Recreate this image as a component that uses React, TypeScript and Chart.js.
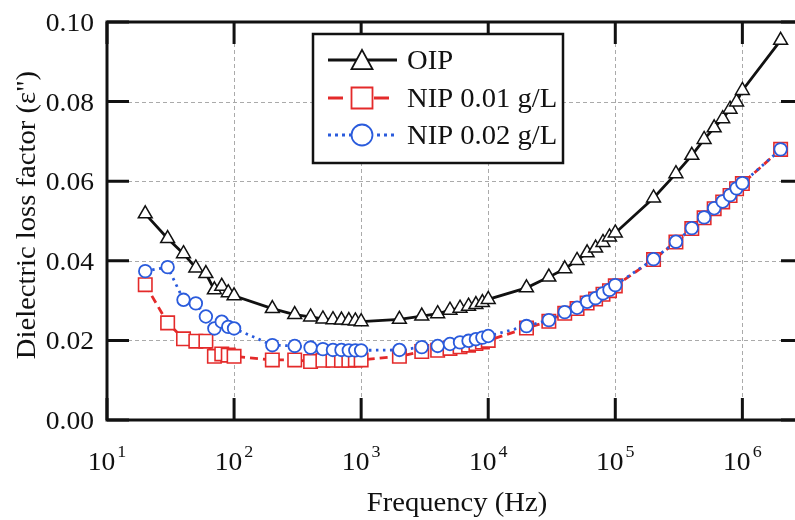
import React, { useEffect, useRef } from 'react';
import { Chart, registerables } from 'chart.js';

Chart.register(...registerables);

// ---------- data ----------
const frequencies = [
  20, 30, 40, 50, 60, 70, 80, 90, 100,
  200, 300, 400, 500, 600, 700, 800, 900, 1000,
  2000, 3000, 4000, 5000, 6000, 7000, 8000, 9000, 10000,
  20000, 30000, 40000, 50000, 60000, 70000, 80000, 90000, 100000,
  200000, 300000, 400000, 500000, 600000, 700000, 800000, 900000, 1000000,
  2000000,
];

const oipValues = [
  0.0518, 0.0456, 0.0418, 0.0382, 0.0368, 0.0327, 0.0336, 0.032, 0.0312,
  0.028, 0.0265, 0.0259, 0.0254, 0.0252, 0.0251, 0.025, 0.0249, 0.0247,
  0.0253, 0.0261, 0.0267, 0.0276, 0.0281, 0.0286, 0.029, 0.0295, 0.0303,
  0.0332, 0.0359, 0.038, 0.0401, 0.042, 0.0432, 0.0446, 0.046, 0.047,
  0.0558, 0.0619, 0.0665, 0.0705, 0.0734, 0.0757, 0.0781, 0.0799, 0.0828,
  0.0954,
];

const nip001Values = [
  0.034, 0.0244, 0.0204, 0.0198, 0.0198, 0.016, 0.0166, 0.0163, 0.016,
  0.0151, 0.0151, 0.0147, 0.015, 0.015, 0.015, 0.015, 0.0151, 0.0151,
  0.016, 0.0172, 0.0175, 0.018, 0.0184, 0.0188, 0.0192, 0.0196, 0.02,
  0.0231, 0.0248, 0.0268, 0.028, 0.0294, 0.0304, 0.0316, 0.0325, 0.0337,
  0.0403, 0.0447, 0.0481, 0.0508, 0.0531, 0.0548, 0.0564, 0.0581, 0.0594,
  0.068,
];

const nip002Values = [
  0.0374, 0.0384, 0.0302, 0.0293, 0.026, 0.023, 0.0247, 0.0234, 0.023,
  0.0188, 0.0186, 0.0182, 0.0178, 0.0176, 0.0176, 0.0175, 0.0175, 0.0175,
  0.0176, 0.0183, 0.0186, 0.0191, 0.0195, 0.0199, 0.0203, 0.0207, 0.0211,
  0.0236, 0.0251, 0.0271, 0.0282, 0.0297, 0.0306, 0.0318, 0.0327, 0.0339,
  0.0404, 0.0448, 0.0482, 0.0509, 0.0532, 0.0549, 0.0565, 0.0582, 0.0595,
  0.068,
];

const seriesNames = ['OIP', 'NIP 0.01 g/L', 'NIP 0.02 g/L'];

const xTickValues = [10, 100, 1000, 10000, 100000, 1000000];
const xTickExponents = ['1', '2', '3', '4', '5', '6'];
const yTickValues = [0, 0.02, 0.04, 0.06, 0.08, 0.1];
const yTickLabels = ['0.00', '0.02', '0.04', '0.06', '0.08', '0.10'];

const xAxisTitle = 'Frequency (Hz)';
const yAxisTitle = 'Dielectric loss factor (ε")';

const X_MIN = 10;
const X_MAX = 3000000;
const Y_MIN = 0;
const Y_MAX = 0.1;

// ---------- styling ----------
const FONT = '"Liberation Serif", "Times New Roman", "DejaVu Serif", serif';
const STRETCH = 1.06;
const BLACK = '#111111';
const RED = '#e42a2a';
const BLUE = '#2a5bdc';

function toPoints(vals: number[]) {
  return frequencies.map((f, i) => ({ x: f, y: vals[i] }));
}

function drawText(
  ctx: CanvasRenderingContext2D,
  text: string,
  x: number,
  y: number,
  size: number,
  align: CanvasTextAlign,
  rotate = 0
) {
  ctx.save();
  ctx.translate(x, y);
  if (rotate) ctx.rotate(rotate);
  ctx.scale(STRETCH, 1);
  ctx.font = `${size}px ${FONT}`;
  ctx.textAlign = align;
  ctx.textBaseline = 'alphabetic';
  ctx.fillStyle = BLACK;
  ctx.fillText(text, 0, 0);
  ctx.restore();
}

function drawMarker(
  ctx: CanvasRenderingContext2D,
  style: string,
  x: number,
  y: number,
  size: number,
  color: string,
  lw: number
) {
  ctx.save();
  ctx.setLineDash([]);
  ctx.fillStyle = '#ffffff';
  ctx.strokeStyle = color;
  ctx.lineWidth = lw;
  ctx.beginPath();
  if (style === 'triangle') {
    const h = size * 0.87;
    ctx.moveTo(x, y - h / 2 - 1);
    ctx.lineTo(x + size / 2, y + h / 2);
    ctx.lineTo(x - size / 2, y + h / 2);
    ctx.closePath();
  } else if (style === 'rect') {
    ctx.rect(x - size / 2, y - size / 2, size, size);
  } else {
    ctx.arc(x, y, size / 2, 0, Math.PI * 2);
  }
  ctx.fill();
  ctx.stroke();
  ctx.restore();
}

const framePlugin = {
  id: 'framePlugin',
  beforeDatasetsDraw(chart: any) {
    const { ctx, chartArea: a, scales } = chart;
    const xs = scales.x;
    const ys = scales.y;
    ctx.save();
    ctx.strokeStyle = '#aaaaaa';
    ctx.lineWidth = 1;
    ctx.setLineDash([4, 3]);
    xTickValues.forEach((v) => {
      if (v <= X_MIN || v >= X_MAX) return;
      const px = Math.round(xs.getPixelForValue(v)) + 0.5;
      ctx.beginPath();
      ctx.moveTo(px, a.top);
      ctx.lineTo(px, a.bottom);
      ctx.stroke();
    });
    yTickValues.forEach((v) => {
      if (v <= Y_MIN || v >= Y_MAX) return;
      const py = Math.round(ys.getPixelForValue(v)) + 0.5;
      ctx.beginPath();
      ctx.moveTo(a.left, py);
      ctx.lineTo(a.right, py);
      ctx.stroke();
    });
    ctx.restore();
  },
  afterDraw(chart: any) {
    const { ctx, chartArea: a, scales } = chart;
    const xs = scales.x;
    const ys = scales.y;
    ctx.save();
    ctx.setLineDash([]);
    ctx.strokeStyle = BLACK;
    ctx.lineWidth = 3;
    ctx.strokeRect(a.left, a.top, a.right - a.left, a.bottom - a.top);

    const TL = 22;
    xTickValues.forEach((v) => {
      const px = xs.getPixelForValue(v);
      ctx.beginPath();
      ctx.moveTo(px, a.bottom);
      ctx.lineTo(px, a.bottom - TL);
      ctx.moveTo(px, a.top);
      ctx.lineTo(px, a.top + TL);
      ctx.stroke();
    });
    yTickValues.forEach((v) => {
      const py = ys.getPixelForValue(v);
      ctx.beginPath();
      ctx.moveTo(a.left, py);
      ctx.lineTo(a.left + TL, py);
      ctx.moveTo(a.right, py);
      ctx.lineTo(a.right - TL, py);
      ctx.stroke();
    });

    // x tick labels: 10^n
    xTickValues.forEach((v, i) => {
      const px = xs.getPixelForValue(v);
      ctx.font = `26px ${FONT}`;
      const wBase = ctx.measureText('10').width * STRETCH;
      ctx.font = `17px ${FONT}`;
      const wExp = ctx.measureText(xTickExponents[i]).width * STRETCH;
      const total = wBase + 2 + wExp;
      const start = px - total / 2;
      drawText(ctx, '10', start, a.bottom + 50, 26, 'left');
      drawText(ctx, xTickExponents[i], start + wBase + 2, a.bottom + 37, 17, 'left');
    });

    // y tick labels
    yTickValues.forEach((v, i) => {
      const py = ys.getPixelForValue(v);
      drawText(ctx, yTickLabels[i], a.left - 13, py + 9, 26, 'right');
    });

    // axis titles
    drawText(ctx, xAxisTitle, 457, 511, 27, 'center');
    drawText(ctx, yAxisTitle, 35, 215, 27, 'center', -Math.PI / 2);

    // legend
    const lx = 313, ly = 34, lw = 250, lh = 129;
    ctx.fillStyle = '#ffffff';
    ctx.fillRect(lx, ly, lw, lh);
    ctx.strokeStyle = BLACK;
    ctx.lineWidth = 2.5;
    ctx.strokeRect(lx, ly, lw, lh);

    const rows = [60, 98, 135];
    const ds = chart.data.datasets;
    const legendOrder = [0, 1, 2];
    legendOrder.forEach((di, r) => {
      const d = ds[di];
      const y = rows[r];
      ctx.save();
      ctx.strokeStyle = d.borderColor;
      ctx.lineWidth = d.borderWidth;
      ctx.setLineDash(d.legendDash || []);
      ctx.beginPath();
      ctx.moveTo(328, y);
      ctx.lineTo(397, y);
      ctx.stroke();
      ctx.restore();
      drawMarker(ctx, d.pointStyle, 362, y, 21, d.pointBorderColor, 1.8);
      drawText(ctx, d.label, 407, y + 8.5, 27, 'left');
    });

    ctx.restore();
  },
};

export default function App() {
  const ref = useRef<HTMLCanvasElement>(null);

  useEffect(() => {
    if (!ref.current) return;
    const chart = new Chart(ref.current, {
      type: 'line',
      data: {
        datasets: [
          {
            label: seriesNames[0],
            data: toPoints(oipValues),
            borderColor: BLACK,
            borderWidth: 2.8,
            pointStyle: 'triangle',
            pointRadius: 8,
            pointBorderWidth: 1.5,
            pointBackgroundColor: '#ffffff',
            pointBorderColor: BLACK,
            tension: 0,
            order: 0,
          } as any,
          {
            label: seriesNames[1],
            data: toPoints(nip001Values),
            borderColor: RED,
            borderWidth: 2.8,
            borderDash: [8, 5],
            legendDash: [15, 8],
            pointStyle: 'rect',
            pointRadius: 9.5,
            pointBorderWidth: 1.6,
            pointBackgroundColor: '#ffffff',
            pointBorderColor: RED,
            tension: 0,
            order: 2,
          } as any,
          {
            label: seriesNames[2],
            data: toPoints(nip002Values),
            borderColor: BLUE,
            borderWidth: 2.8,
            borderDash: [2.5, 4.5],
            legendDash: [3, 4],
            pointStyle: 'circle',
            pointRadius: 6.3,
            pointBorderWidth: 1.8,
            pointBackgroundColor: '#ffffff',
            pointBorderColor: BLUE,
            tension: 0,
            order: 1,
          } as any,
        ],
      },
      options: {
        animation: false,
        responsive: false,
        devicePixelRatio: 1,
        layout: { padding: { left: 107, right: 12, top: 22, bottom: 100 } },
        plugins: {
          legend: { display: false },
          tooltip: { enabled: false },
        },
        scales: {
          x: { type: 'logarithmic', min: X_MIN, max: X_MAX, display: false },
          y: { type: 'linear', min: Y_MIN, max: Y_MAX, display: false },
        },
      },
      plugins: [framePlugin],
    });
    return () => chart.destroy();
  }, []);

  return (
    <div
      style={{
        position: 'fixed',
        left: 0,
        top: 0,
        width: 795,
        height: 520,
        overflow: 'hidden',
        background: '#ffffff',
      }}
    >
      <canvas ref={ref} width={815} height={520} style={{ display: 'block', width: 815, height: 520 }} />
    </div>
  );
}
